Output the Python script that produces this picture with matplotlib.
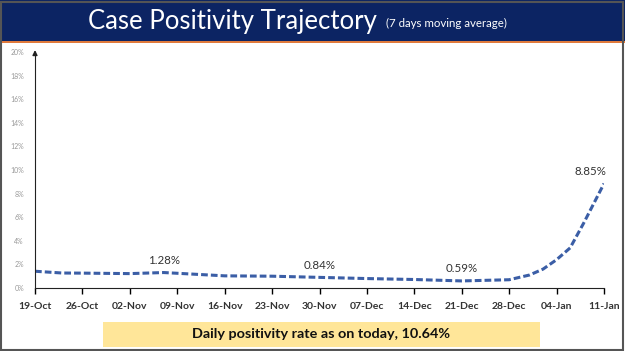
import numpy as np
import pandas as pd
import matplotlib.pyplot as plt
from matplotlib.patches import Rectangle

plt.rcParams['font.family'] = ['Lato', 'DejaVu Sans']

# 7-day moving average of case positivity (%)
dates = pd.to_datetime(['2020-10-19', '2020-10-23', '2020-10-26', '2020-11-02',
                        '2020-11-07', '2020-11-16', '2020-11-23', '2020-11-30',
                        '2020-12-07', '2020-12-14', '2020-12-21', '2020-12-28',
                        '2020-12-31', '2021-01-02', '2021-01-04', '2021-01-06',
                        '2021-01-08', '2021-01-11'])
rate = [1.42, 1.27, 1.26, 1.22, 1.31, 1.03, 1.0, 0.9,
        0.8, 0.72, 0.6, 0.7, 1.1, 1.6, 2.4, 3.4, 5.5, 8.85]

tick_dates = pd.date_range('2020-10-19', '2021-01-11', freq='7D')
yticks = np.arange(0, 21, 2)

labels = [('2020-11-07', 1.28, '1.28%'), ('2020-11-30', 0.84, '0.84%'),
          ('2020-12-21', 0.59, '0.59%'), ('2021-01-09', 8.85, '8.85%')]

fig = plt.figure(figsize=(6.25, 3.51), dpi=100)
fig.patch.set_facecolor('white')

# title banner
fig.patches.append(Rectangle((0, 1 - 41/351), 1, 41/351, transform=fig.transFigure,
                             facecolor='#0c2463', edgecolor='none'))
fig.patches.append(Rectangle((0, 1 - 43/351), 1, 2/351, transform=fig.transFigure,
                             facecolor='#e07a3c', edgecolor='none'))
fig.text(88/625, 1 - 21/351, 'Case Positivity Trajectory', color='white',
         fontsize=18.5, va='center', ha='left')
fig.text(386/625, 1 - 23/351, '(7 days moving average)', color='white',
         fontsize=8.3, va='center', ha='left')

ax = fig.add_axes([35/625, 1 - 288/351, 569/625, 236/351])
ax.plot(dates, rate, color='#3b5ea6', lw=2.2, dashes=(2.2, 1.0))

ax.set_ylim(0, 20)
ax.set_xlim(tick_dates[0], tick_dates[-1])
ax.set_yticks(yticks)
ax.set_yticklabels([f'{v}%' for v in yticks], fontsize=5, color='#999999')
ax.set_xticks(tick_dates)
ax.set_xticklabels([d.strftime('%d-%b') for d in tick_dates], fontsize=7.5,
                   fontweight='bold', color='#333333')
ax.tick_params(axis='y', length=0, pad=8)
ax.tick_params(axis='x', length=4, width=1, direction='out', pad=6)
for s in ['top', 'right']:
    ax.spines[s].set_visible(False)
ax.spines['bottom'].set_color('#222222')
ax.spines['left'].set_color('#222222')
ax.spines['left'].set_bounds(0, 20)
ax.annotate('', xy=(0, 1.02), xytext=(0, 0.98), xycoords='axes fraction',
            arrowprops=dict(arrowstyle='-|>', color='#222222', lw=1,
                            mutation_scale=7))

for d, v, t in labels:
    ax.annotate(t, (pd.Timestamp(d), v), xytext=(0, 5), textcoords='offset points',
                ha='center', va='bottom', fontsize=8.3, color='#333333')

# bottom highlight box
fig.patches.append(Rectangle((103/625, 1 - 347/351), 437/625, 25/351,
                             transform=fig.transFigure, facecolor='#ffe699',
                             edgecolor='none'))
fig.text(321/625, 1 - 334/351, 'Daily positivity rate as on today, 10.64%',
         fontsize=10.4, fontweight='bold', color='#111111', ha='center', va='center')

# frame
fig.patches.append(Rectangle((0.002, 0.004), 0.994, 0.99, transform=fig.transFigure,
                             facecolor='none', edgecolor='#555555', lw=1.5))

fig.savefig('out.png', dpi=100)
